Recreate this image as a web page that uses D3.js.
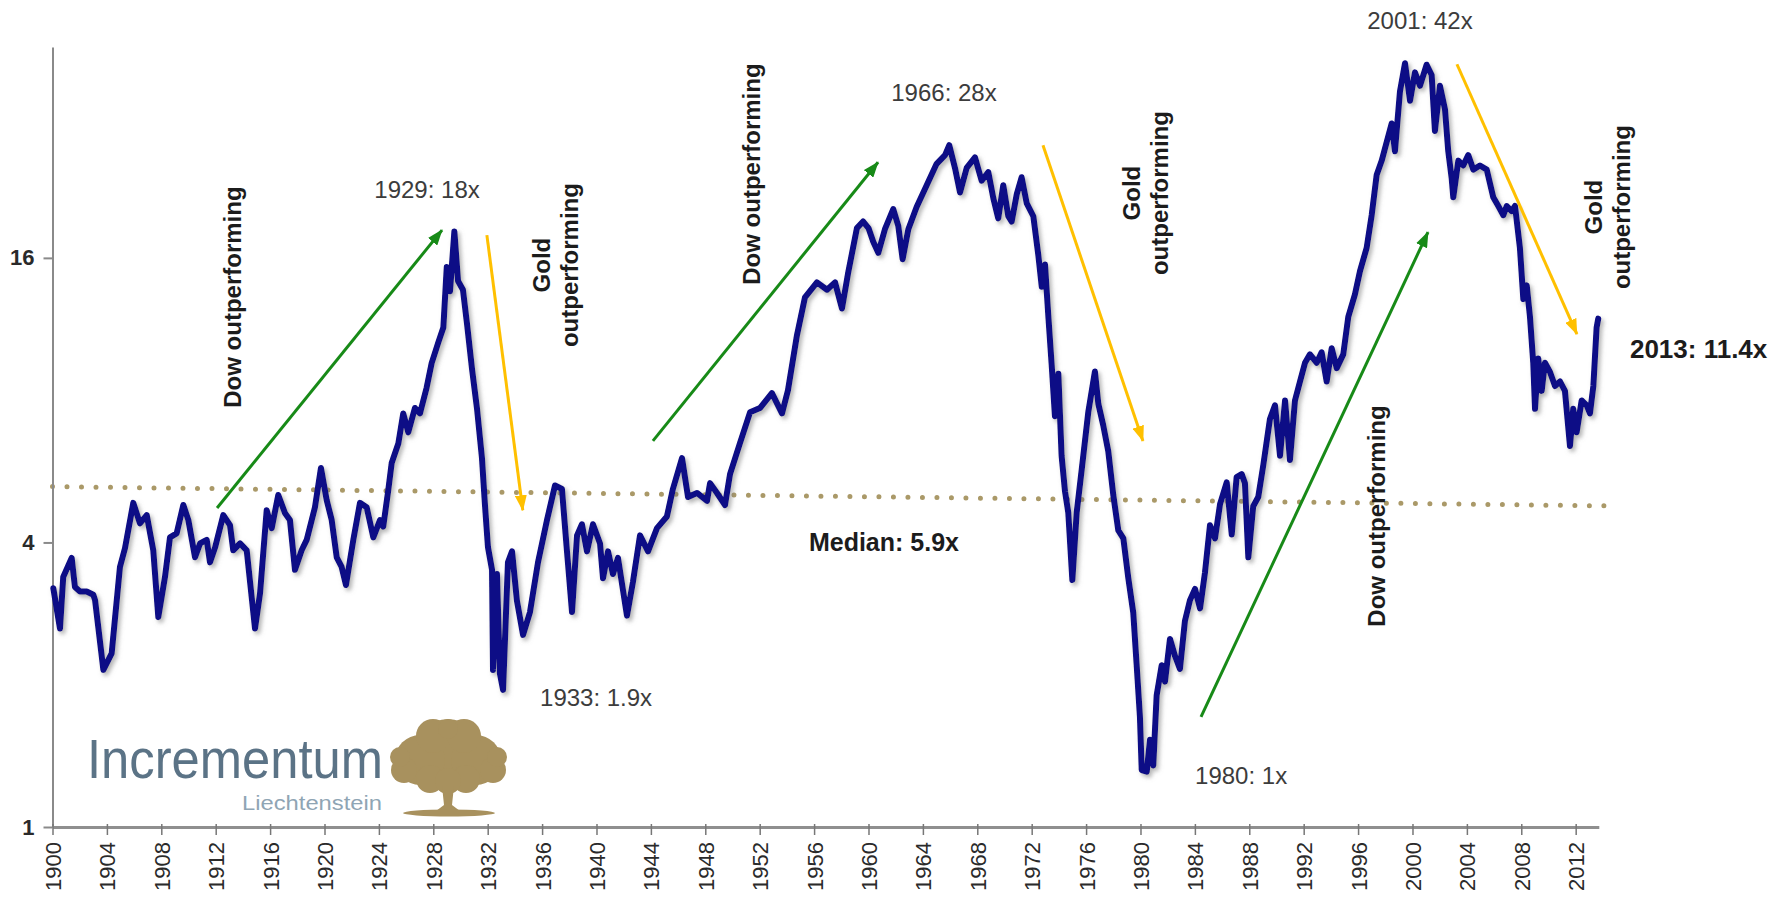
<!DOCTYPE html>
<html><head><meta charset="utf-8">
<script src="https://cdn.jsdelivr.net/npm/d3@7"></script>
<style>
html,body{margin:0;padding:0;background:#fff;}
svg{display:block;}
text{font-family:"Liberation Sans", Arial, sans-serif;}
</style></head><body>
<svg id="chart" width="1775" height="897"></svg>
<script>
// ---- data: Dow / Gold ratio ----
const years = [1900.06,1900.55,1900.79,1901.41,1901.65,1902.02,1902.51,1903.0,1903.13,1903.74,1904.35,1904.96,1905.33,1905.94,1906.43,1906.93,1907.41,1907.78,1908.27,1908.64,1909.13,1909.62,1909.99,1910.48,1910.85,1911.34,1911.58,1911.95,1912.56,1913.05,1913.29,1913.79,1914.28,1914.89,1915.26,1915.75,1916.12,1916.6,1917.1,1917.46,1917.83,1918.32,1918.69,1919.3,1919.74,1920.16,1920.53,1920.9,1921.26,1921.58,1922.12,1922.61,1923.1,1923.59,1924.08,1924.32,1924.69,1924.94,1925.43,1925.79,1926.16,1926.65,1927.02,1927.51,1927.88,1928.37,1928.74,1928.99,1929.23,1929.55,1929.82,1930.18,1930.48,1930.85,1931.21,1931.58,1931.8,1932.02,1932.32,1932.39,1932.68,1932.9,1933.13,1933.49,1933.79,1934.15,1934.6,1935.11,1935.7,1936.36,1936.95,1937.46,1937.83,1938.2,1938.57,1938.93,1939.3,1939.74,1940.26,1940.48,1940.85,1941.21,1941.58,1942.24,1942.68,1943.2,1943.79,1944.45,1945.18,1945.62,1946.29,1946.73,1947.39,1948.13,1948.35,1948.86,1949.45,1949.82,1950.55,1951.29,1952.02,1952.9,1953.64,1954.08,1954.74,1955.33,1956.21,1956.95,1957.54,1958.05,1958.49,1959.15,1959.6,1960.0,1960.35,1960.72,1961.21,1961.82,1962.19,1962.51,1962.93,1963.54,1964.28,1965.01,1965.63,1965.94,1966.36,1966.73,1967.22,1967.83,1968.32,1968.81,1969.18,1969.54,1969.91,1970.28,1970.53,1970.9,1971.26,1971.63,1972.12,1972.49,1972.74,1972.98,1973.22,1973.47,1973.71,1973.96,1974.2,1974.45,1974.69,1974.99,1975.31,1975.68,1976.16,1976.65,1976.9,1977.26,1977.63,1978.0,1978.37,1978.74,1979.1,1979.47,1979.72,1979.96,1980.09,1980.46,1980.7,1980.94,1981.19,1981.56,1981.8,1982.17,1982.54,1982.9,1983.27,1983.64,1984.01,1984.38,1984.74,1985.11,1985.48,1985.85,1986.34,1986.71,1987.07,1987.44,1987.68,1987.93,1988.29,1988.66,1989.03,1989.52,1989.89,1990.26,1990.63,1990.99,1991.36,1991.73,1992.1,1992.46,1992.96,1993.32,1993.69,1994.06,1994.43,1994.91,1995.28,1995.77,1996.14,1996.63,1997.0,1997.37,1997.74,1998.1,1998.47,1998.71,1999.08,1999.45,1999.82,2000.18,2000.55,2001.04,2001.41,2001.65,2002.02,2002.39,2002.63,2002.88,2003.0,2003.37,2003.73,2004.1,2004.47,2004.96,2005.46,2005.94,2006.31,2006.68,2006.93,2007.29,2007.54,2007.9,2008.15,2008.4,2008.64,2008.88,2009.01,2009.25,2009.5,2009.74,2010.11,2010.48,2010.85,2011.21,2011.58,2011.82,2012.07,2012.44,2012.81,2013.05,2013.3,2013.54,2013.66];
const ratio = [3.2,2.63,3.38,3.71,3.22,3.15,3.15,3.1,3.02,2.15,2.33,3.55,3.89,4.85,4.39,4.57,3.85,2.78,3.38,4.1,4.18,4.8,4.46,3.72,3.98,4.05,3.63,3.9,4.57,4.35,3.85,3.98,3.85,2.63,3.12,4.68,4.29,5.04,4.61,4.46,3.5,3.85,4.05,4.75,5.75,4.92,4.46,3.72,3.55,3.25,4.05,4.85,4.75,4.1,4.46,4.32,5.16,5.89,6.48,7.5,6.84,7.7,7.5,8.5,9.58,10.6,11.4,15.3,13.6,18.2,14.3,13.7,11.6,9.3,7.7,6.03,4.8,3.91,3.5,2.15,3.43,2.11,1.95,3.63,3.83,3.01,2.55,2.85,3.63,4.46,5.28,5.19,3.83,2.85,4.14,4.37,3.83,4.37,3.98,3.36,3.83,3.43,3.71,2.8,3.3,4.14,3.83,4.29,4.54,5.19,6.03,4.99,5.09,4.9,5.34,5.09,4.8,5.58,6.49,7.54,7.7,8.28,7.5,8.4,10.97,13.2,14.2,13.7,14.2,12.5,14.8,18.5,19.1,18.5,17.3,16.4,18.4,20.3,18.7,15.9,18.4,20.5,22.8,25.3,26.4,27.7,24.8,22.0,24.8,26.1,23.3,24.3,21.4,19.4,22.8,19.6,19.1,21.8,23.7,20.9,19.6,16.2,13.9,15.5,12.1,9.5,7.4,9.1,6.1,5.13,4.63,3.33,4.63,5.71,7.54,9.2,7.86,7.08,6.24,5.04,4.24,4.08,3.37,2.84,2.2,1.71,1.32,1.31,1.53,1.35,1.9,2.2,2.03,2.5,2.3,2.16,2.73,3.02,3.19,2.9,3.45,4.35,4.08,4.82,5.36,4.16,5.5,5.58,5.34,3.72,4.77,4.99,5.83,7.3,7.8,6.1,7.99,5.98,7.99,8.76,9.6,10.0,9.6,10.1,8.76,10.3,9.35,10.0,12.0,13.4,15.0,16.8,19.7,24.0,25.7,28.1,30.8,26.9,36,41.3,34.4,39.5,37,41,39,29.7,37,33,26.9,23.6,21.5,25.7,25.1,26.4,24.6,25.1,24.6,21.5,20.6,19.7,20.6,20.1,20.6,16.8,13.1,14.0,12.0,9.6,7.67,9.8,8.37,9.6,9.18,8.57,8.76,8.37,6.4,7.67,6.84,7.99,7.8,7.5,8.57,11.4,11.9];

const yTicks = [1, 4, 16];
const xTicks = [1900,1904,1908,1912,1916,1920,1924,1928,1932,1936,1940,1944,1948,1952,1956,1960,1964,1968,1972,1976,1980,1984,1988,1992,1996,2000,2004,2008,2012];

// median reference line (as drawn, slightly tilted)
const medianYears = [1900, 2014.2];
const medianValues = [5.25, 4.78];

// arrows (trend annotations)
const arrowStartYear  = [1912.10, 1944.15, 1984.45, 1931.94, 1972.83, 2003.27];
const arrowStartValue = [4.73, 6.56, 1.71, 17.88, 27.7, 41.1];
const arrowEndYear    = [1928.64, 1960.70, 2001.14, 1934.58, 1980.18, 2012.09];
const arrowEndValue   = [18.32, 25.5, 18.14, 4.68, 6.56, 11.04];
const arrowKind       = ["dow", "dow", "dow", "gold", "gold", "gold"];

// point labels
const peakLabels      = ["1929: 18x", "1966: 28x", "2001: 42x", "1933: 1.9x", "1980: 1x"];
const peakLabelYear   = [1927.54, 1965.55, 2000.55, 1939.97, 1987.40];
const peakLabelValue  = [22.37, 35.9, 50.96, 1.88, 1.288];

const boldLabels      = ["Median: 5.9x", "2013: 11.4x"];
const boldLabelYear   = [1955.62, 2015.99];
const boldLabelValue  = [4.01, 10.26];

// rotated phase labels
const phaseLines  = [["Dow outperforming"], ["Gold", "outperforming"], ["Dow outperforming"], ["Gold", "outperforming"], ["Dow outperforming"], ["Gold", "outperforming"]];
const phaseYear   = [1913.21, 1936.95, 1951.43, 1980.40, 1997.39, 2014.37];
const phaseValue  = [13.22, 15.45, 24.07, 21.94, 4.55, 20.49];

// ---- drawing ----
const svg = d3.select("#chart");
const x = d3.scaleLinear().domain([1900, 2013.7]).range([52.5, 1598.8]);
const y = d3.scaleLog().base(2).domain([1, 44.7]).range([827, 47]);

const defs = svg.append("defs");
const f = defs.append("filter").attr("id", "shadow").attr("x", "-5%").attr("y", "-5%").attr("width", "110%").attr("height", "110%");
f.append("feDropShadow").attr("dx", 2.5).attr("dy", 3).attr("stdDeviation", 2).attr("flood-color", "#777").attr("flood-opacity", 0.55);

function marker(id, color) {
  defs.append("marker").attr("id", id).attr("markerUnits", "userSpaceOnUse")
    .attr("viewBox", "0 0 16 12").attr("refX", 15).attr("refY", 6)
    .attr("markerWidth", 16).attr("markerHeight", 12).attr("orient", "auto")
    .append("path").attr("d", "M0,0 L16,6 L0,12 Z").attr("fill", color);
}
const arrowColor = {dow: "#178a17", gold: "#ffc000"};
marker("m-dow", arrowColor.dow);
marker("m-gold", arrowColor.gold);

// logo (decorative)
const logo = svg.append("g").attr("class", "logo");
logo.append("text").attr("x", 87).attr("y", 778).attr("font-size", 56)
  .attr("textLength", 296).attr("lengthAdjust", "spacingAndGlyphs")
  .attr("fill", "#5b7386").text("Incrementum");
logo.append("text").attr("x", 242).attr("y", 810).attr("font-size", 20)
  .attr("textLength", 140).attr("lengthAdjust", "spacingAndGlyphs")
  .attr("fill", "#8fa5b4").text("Liechtenstein");
const tree = logo.append("g").attr("fill", "#a8915e");
[[448,752,33],[420,760,25],[476,760,25],[404,770,13],[493,770,13],[433,736,17],[464,736,17],[448,729,10],[430,779,14],[466,779,14],[448,781,13],[400,757,10],[497,757,10]]
  .forEach(c => tree.append("circle").attr("cx", c[0]).attr("cy", c[1]).attr("r", c[2]));
tree.append("path").attr("d", "M442,786 L454,786 L452,805 L460,811 L436,811 L444,805 Z");
tree.append("ellipse").attr("cx", 449).attr("cy", 813).attr("rx", 46).attr("ry", 3.5);

// median dotted line
svg.append("line")
  .attr("x1", x(medianYears[0])).attr("y1", y(medianValues[0]))
  .attr("x2", x(medianYears[1])).attr("y2", y(medianValues[1]))
  .attr("stroke", "#aa9968").attr("stroke-width", 5)
  .attr("stroke-linecap", "round").attr("stroke-dasharray", "0 14.5");

// axes
const yAxis = svg.append("g").attr("transform", `translate(${x(1900)},0)`)
  .call(d3.axisLeft(y).tickValues(yTicks).tickFormat(d3.format("d")).tickSize(9).tickSizeOuter(0).tickPadding(9));
yAxis.select(".domain").attr("stroke", "#8a8a8a").attr("stroke-width", 2);
yAxis.selectAll(".tick line").attr("stroke", "#8a8a8a").attr("stroke-width", 2);
yAxis.selectAll(".tick text").attr("font-size", 22).attr("font-weight", "bold").attr("fill", "#2a2a2a")
  .attr("font-family", '"Liberation Sans", Arial, sans-serif');

const xAxis = svg.append("g").attr("transform", `translate(0,${y(1)})`)
  .call(d3.axisBottom(x).tickValues(xTicks).tickFormat(d3.format("d")).tickSize(8).tickSizeOuter(0));
xAxis.select(".domain").attr("stroke", "#8f8f8f").attr("stroke-width", 3);
xAxis.selectAll(".tick line").attr("stroke", "#777").attr("stroke-width", 1.5).attr("y1", -3).attr("y2", 8);
xAxis.selectAll(".tick text").attr("font-size", 22).attr("fill", "#2a2a2a")
  .attr("font-family", '"Liberation Sans", Arial, sans-serif')
  .attr("transform", "rotate(-90)").attr("text-anchor", "end")
  .attr("x", -15).attr("y", 0).attr("dy", "0.36em");

// ratio line
const pts = years.map((yr, i) => [yr, ratio[i]]);
svg.append("path").datum(pts)
  .attr("d", d3.line().x(d => x(d[0])).y(d => y(d[1])))
  .attr("fill", "none").attr("stroke", "#0c0c86").attr("stroke-width", 6)
  .attr("stroke-linejoin", "round").attr("stroke-linecap", "round")
  .attr("filter", "url(#shadow)");

// arrows
arrowKind.forEach((k, i) => {
  svg.append("line")
    .attr("x1", x(arrowStartYear[i])).attr("y1", y(arrowStartValue[i]))
    .attr("x2", x(arrowEndYear[i])).attr("y2", y(arrowEndValue[i]))
    .attr("stroke", arrowColor[k]).attr("stroke-width", 3)
    .attr("marker-end", `url(#m-${k})`);
});

// labels
peakLabels.forEach((t, i) => {
  svg.append("text").attr("x", x(peakLabelYear[i])).attr("y", y(peakLabelValue[i]))
    .attr("text-anchor", "middle").attr("dominant-baseline", "central")
    .attr("font-size", 24).attr("fill", "#3c3c3c").text(t);
});
boldLabels.forEach((t, i) => {
  svg.append("text").attr("x", x(boldLabelYear[i])).attr("y", y(boldLabelValue[i]))
    .attr("text-anchor", "start").attr("dominant-baseline", "central")
    .attr("font-size", i === 0 ? 25 : 26).attr("font-weight", "bold").attr("fill", "#1c1c1c").text(t);
});
phaseLines.forEach((lines, i) => {
  const g = svg.append("g").attr("transform", `translate(${x(phaseYear[i])},${y(phaseValue[i])}) rotate(-90)`);
  const n = lines.length;
  lines.forEach((l, j) => {
    g.append("text").attr("x", 0).attr("y", (j - (n - 1) / 2) * 28)
      .attr("text-anchor", "middle").attr("dominant-baseline", "central")
      .attr("font-size", 24).attr("font-weight", "bold").attr("fill", "#1c1c1c").text(l);
  });
});
</script>
</body></html>
